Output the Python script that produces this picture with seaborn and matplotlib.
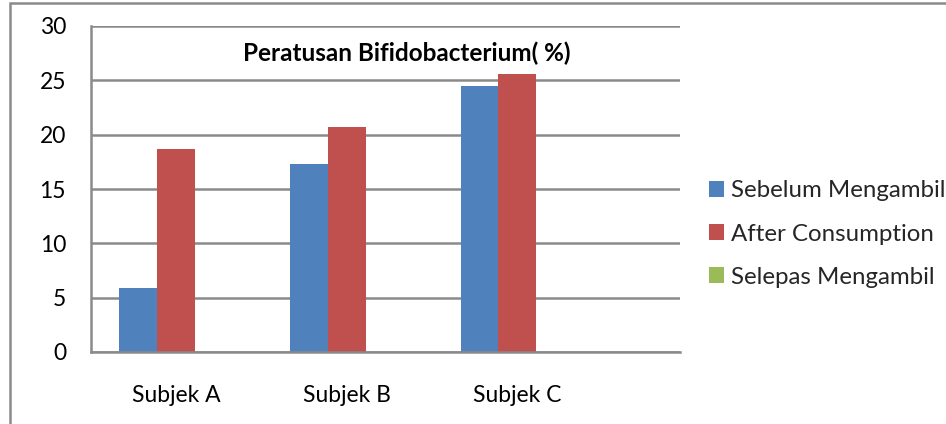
import matplotlib
matplotlib.use("Agg")
import matplotlib.pyplot as plt
import seaborn as sns
import pandas as pd
from matplotlib.patches import Rectangle

categories = ["Subjek A", "Subjek B", "Subjek C"]
series_names = ["Sebelum Mengambil", "After Consumption", "Selepas Mengambil"]
sebelum = [5.9, 17.3, 24.5]
after = [18.7, 20.7, 25.6]
selepas = [0, 0, 0]
yticks = [0, 5, 10, 15, 20, 25, 30]
title = "Peratusan Bifidobacterium( %)"

colors = ["#4F81BD", "#C0504D", "#9BBB59"]

rows = []
for name, vals in zip(series_names, [sebelum, after, selepas]):
    for c, v in zip(categories, vals):
        rows.append({"cat": c, "series": name, "value": v})
df = pd.DataFrame(rows)

sns.set_theme(style="white")
plt.rcParams["font.family"] = ["Lato", "DejaVu Sans"]

fig = plt.figure(figsize=(9.46, 4.24), dpi=100)
ax = fig.add_axes([91/946, 1-352/424, (680-91)/946, (352-26)/424])

sns.barplot(data=df, x="cat", y="value", hue="series", order=categories,
            hue_order=series_names, palette=colors, width=0.667,
            saturation=1, linewidth=0, ax=ax, legend=True)

fs = 16.5
ax.set_xlim(-0.5, 2.953)
ax.set_ylim(0, 30)
ax.set_yticks(yticks)
ax.set_yticklabels([str(t) for t in yticks], fontsize=fs)
ax.set_xlabel("")
ax.set_ylabel("")
ax.tick_params(axis="both", length=0, labelsize=fs, colors="black")
ax.tick_params(axis="y", pad=18)
ax.tick_params(axis="x", pad=24)
ax.yaxis.grid(True, color="#8a8a8a", linewidth=1.8)
ax.set_axisbelow(True)
for s in ["top", "right"]:
    ax.spines[s].set_visible(False)
for s in ["left", "bottom"]:
    ax.spines[s].set_color("#8a8a8a")
    ax.spines[s].set_linewidth(1.8)

handles, labels = ax.get_legend_handles_labels()
ax.get_legend().remove()
fig.legend(handles, labels, loc="center left", bbox_to_anchor=(699/946, 1-234/424),
           frameon=False, fontsize=17.3, handlelength=0.65, handleheight=0.65,
           handletextpad=0.3, labelspacing=0.92, borderaxespad=0)

fig.text(407/946, 1-53/424, title, ha="center", va="center",
         fontsize=17.5, fontweight="bold", color="black")

fig.patches.append(Rectangle((10/946, -0.1), 1.0, 1.1 - 3/424, transform=fig.transFigure,
                             fill=False, edgecolor="#8a8a8a", linewidth=1.8, clip_on=False))

fig.savefig("out.png", dpi=100)
